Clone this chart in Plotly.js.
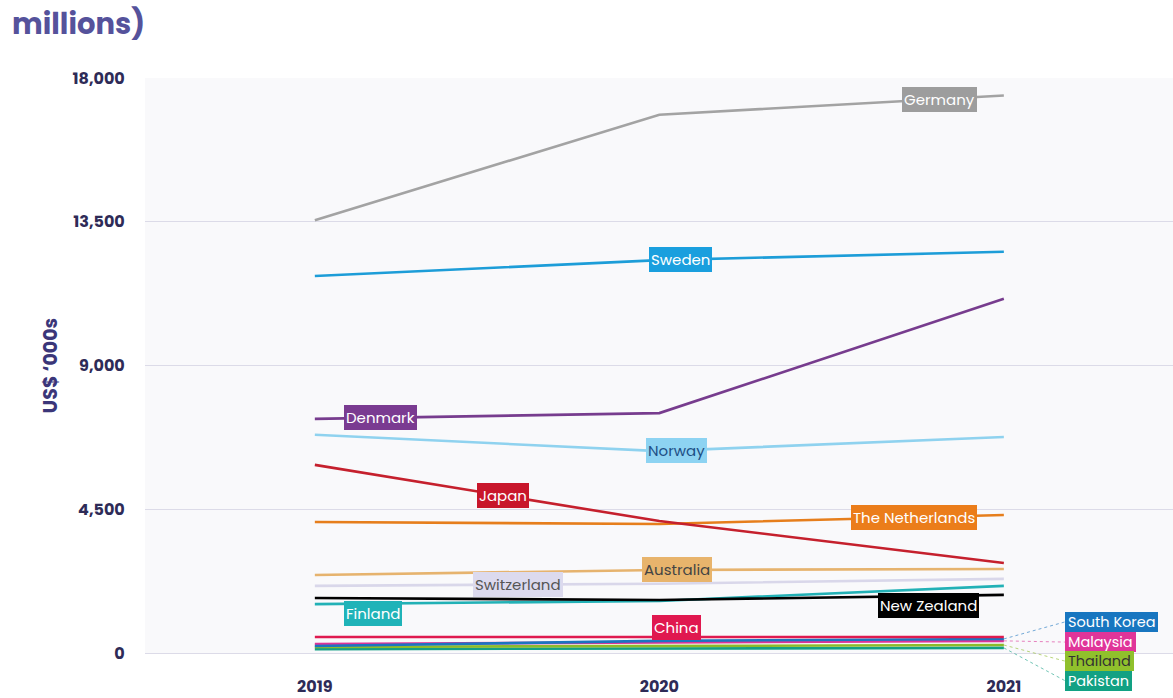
<!DOCTYPE html>
<html>
<head>
<meta charset="utf-8">
<script src="https://cdn.plot.ly/plotly-3.0.1.min.js"></script>
<style>html,body{margin:0;padding:0;background:#fff;}#chart{width:1173px;height:698px;}</style>
</head>
<body>
<div id="chart"></div>
<script>
// ---- data (US$ '000s) ----
const years = [2019, 2020, 2021];
const yearLabels = ['2019', '2020', '2021'];
const yTicks = [0, 4500, 9000, 13500, 18000];

const germany      = [13550, 16850, 17450];
const sweden       = [11800, 12300, 12560];
const denmark      = [7330, 7510, 11090];
const norway       = [6830, 6320, 6760];
const japan        = [5890, 4130, 2820];
const netherlands  = [4100, 4040, 4320];
const australia    = [2440, 2600, 2630];
const switzerland  = [2100, 2170, 2320];
const newZealand   = [1720, 1660, 1820];
const finland      = [1530, 1630, 2100];
const china        = [500, 500, 500];
const southKorea   = [220, 380, 440];
const malaysia     = [280, 330, 380];
const thailand     = [190, 220, 250];
const pakistan     = [120, 140, 160];

const seriesNames = ['Germany','Sweden','Denmark','Norway','Japan','The Netherlands','Australia',
  'Switzerland','New Zealand','Finland','China','South Korea','Malaysia','Thailand','Pakistan'];
const seriesValues = [germany, sweden, denmark, norway, japan, netherlands, australia,
  switzerland, newZealand, finland, china, southKorea, malaysia, thailand, pakistan];

// ---- styles ----
const styles = {
  'Germany':         {line:'#a3a3a3', bg:'#9d9d9d', fg:'#ffffff', lx:2020.814, dy:0},
  'Sweden':          {line:'#1d9dd8', bg:'#1a9fde', fg:'#ffffff', lx:2020.06, dy:0},
  'Denmark':         {line:'#773c8e', bg:'#7a3b91', fg:'#ffffff', lx:2019.19, dy:0},
  'Norway':          {line:'#8fd2ef', bg:'#8dd3f2', fg:'#1d4f86', lx:2020.05, dy:0},
  'Japan':           {line:'#c5202d', bg:'#c8162b', fg:'#ffffff', lx:2019.545, dy:0},
  'The Netherlands': {line:'#e67e1c', bg:'#eb7d1a', fg:'#ffffff', lx:2020.74, dy:0},
  'Australia':       {line:'#e6b36e', bg:'#e8b46c', fg:'#444444', lx:2020.05, dy:0},
  'Switzerland':     {line:'#d9d7ea', bg:'#dcdaee', fg:'#555555', lx:2019.59, dy:0},
  'New Zealand':     {line:'#000000', bg:'#000000', fg:'#ffffff', lx:2020.78, dy:-10},
  'Finland':         {line:'#22b1b6', bg:'#1fb3b8', fg:'#ffffff', lx:2019.17, dy:-10},
  'China':           {line:'#df1a4f', bg:'#e0184f', fg:'#ffffff', lx:2020.05, dy:10},
  'South Korea':     {line:'#1b75c0', bg:'#1876c0', fg:'#ffffff', side:0.054},
  'Malaysia':        {line:'#dc3497', bg:'#e03599', fg:'#ffffff', side:0.019},
  'Thailand':        {line:'#8dbb2a', bg:'#90c02c', fg:'#333333', side:-0.014},
  'Pakistan':        {line:'#14a085', bg:'#12a183', fg:'#ffffff', side:-0.048}
};

const xRange = [2018.507, 2021.491];
const yRange = [0, 18000];
const FONT = 'Poppins, Inter, "Open Sans", sans-serif';

function interp(vals, x) {
  for (let i = 0; i < years.length - 1; i++) {
    if (x >= years[i] && x <= years[i+1]) {
      const t = (x - years[i]) / (years[i+1] - years[i]);
      return vals[i] + t * (vals[i+1] - vals[i]);
    }
  }
  return vals[vals.length - 1];
}

const traces = [];
const annotations = [];
const shapes = [];
for (let i = seriesNames.length - 1; i >= 0; i--) {
  const name = seriesNames[i];
  const st = styles[name];
  traces.push({
    x: years, y: seriesValues[i], type: 'scatter', mode: 'lines', name: name,
    line: {color: st.line, width: 2.6}, hoverinfo: 'name+y'
  });
}
seriesNames.forEach((name, i) => {
  const st = styles[name];
  const vals = seriesValues[i];
  if (st.side === undefined) {
    annotations.push({
      x: st.lx, y: interp(vals, st.lx), xref: 'x', yref: 'y', yshift: st.dy,
      text: name, showarrow: false, bgcolor: st.bg, borderpad: 2, borderwidth: 0,
      font: {family: FONT, size: 15, color: st.fg}
    });
  } else {
    const xEnd = (years[years.length-1] - xRange[0]) / (xRange[1] - xRange[0]);
    const xLab = (2021.177 - xRange[0]) / (xRange[1] - xRange[0]);
    const yEnd = (vals[vals.length-1] - yRange[0]) / (yRange[1] - yRange[0]);
    annotations.push({
      x: xLab, y: st.side, xref: 'paper', yref: 'paper', xanchor: 'left', yanchor: 'middle',
      text: '\u2009' + name + '\u2009', showarrow: false, bgcolor: st.bg, borderpad: 0, borderwidth: 0,
      font: {family: FONT, size: 14.5, color: st.fg}
    });
    shapes.push({
      type: 'line', xref: 'paper', yref: 'paper', x0: xEnd, y0: yEnd, x1: xLab, y1: st.side,
      line: {color: st.line, width: 1, dash: 'dot'}, opacity: 0.6
    });
  }
});

const layout = {
  width: 1173, height: 698,
  margin: {l: 145, r: 0, t: 78, b: 45},
  paper_bgcolor: '#ffffff', plot_bgcolor: '#f9f9fb',
  showlegend: false,
  title: {
    text: '<b>millions)</b>', xref: 'container', yref: 'container',
    x: 12/1173, xanchor: 'left', y: 1 - 24/698, yanchor: 'middle',
    font: {family: FONT, size: 29, color: '#55529b'}
  },
  xaxis: {
    range: xRange, tickvals: years, ticktext: yearLabels, showgrid: false, zeroline: false,
    ticks: 'outside', ticklen: 19, tickcolor: 'rgba(0,0,0,0)', showline: false,
    tickfont: {family: FONT, size: 16, color: '#2e2b57', weight: 'bold'}
  },
  yaxis: {
    range: yRange, tickvals: yTicks, tickformat: ',d', showgrid: true,
    gridcolor: '#dcdbe8', gridwidth: 1, zeroline: true, zerolinecolor: '#dcdbe8', zerolinewidth: 1,
    ticks: 'outside', ticklen: 16, tickcolor: 'rgba(0,0,0,0)', showline: false,
    tickfont: {family: FONT, size: 16, color: '#2e2b57', weight: 'bold'},
    title: {text: '<b>US$ ‘000s</b>', standoff: 9,
      font: {family: FONT, size: 19, color: '#3b3679'}}
  },
  annotations: annotations,
  shapes: shapes
};

Plotly.newPlot('chart', traces, layout, {displayModeBar: false, staticPlot: true});
</script>
</body>
</html>
